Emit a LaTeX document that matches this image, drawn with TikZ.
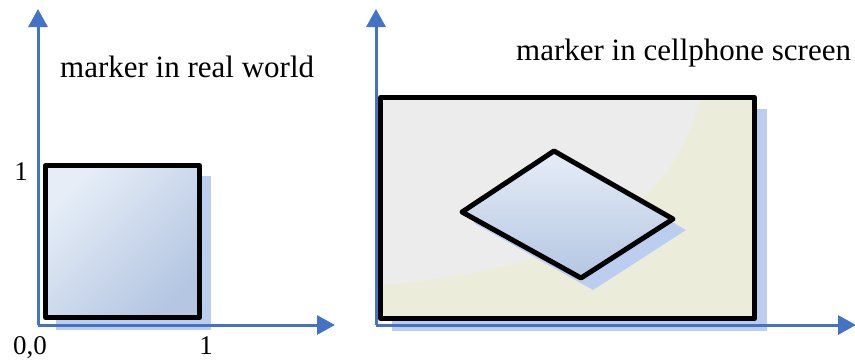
\documentclass[tikz,border=0pt]{standalone}
\usepackage{fontspec}
\setmainfont{Liberation Serif}
\usetikzlibrary{arrows.meta}
\definecolor{axisblue}{RGB}{68,114,196}
\definecolor{shadowblue}{RGB}{188,206,240}
\definecolor{screengray}{RGB}{236,236,236}
\definecolor{screenbeige}{RGB}{236,236,219}
\definecolor{markerlight}{RGB}{230,237,247}
\definecolor{markerdark}{RGB}{180,198,226}
\tikzset{
  axis/.style={draw=axisblue, line width=3pt, -{Triangle[length=18pt,width=19pt]}},
  outline/.style={draw=black, line width=5pt, line join=round},
  title/.style={font=\fontsize{31}{36}\selectfont, anchor=base west, inner sep=0pt},
  digit/.style={font=\fontsize{27}{30}\selectfont, anchor=base, inner sep=0pt}
}
\begin{document}
\begin{tikzpicture}[x=1pt,y=-1pt]
\useasboundingbox (0,0) rectangle (855,362);
% ---------- left part ----------
\fill[shadowblue] (55.5,175.5) rectangle (210.5,329.5);
\coordinate (lo) at (38,325);
\coordinate (ly) at (38,9);
\coordinate (lx) at (335,325);
\draw[axis] (lo) -- (ly);
\draw[axis] (lo) -- (lx);
\shade[shading=axis, top color=markerlight, bottom color=markerdark, shading angle=45]
  (45.5,165.5) rectangle (199.5,317.5);
\draw[outline] (45.5,165.5) rectangle (199.5,317.5);
\node[title] (t1) at (60,77) {marker in real world};
\node[digit] (l1) at (21,180) {1};
\node[digit] (l00) at (30,354) {0,0};
\node[digit] (lx1) at (206,354) {1};
% ---------- right part ----------
\fill[shadowblue] (391.5,108.5) rectangle (766.5,330.5);
\coordinate (ro) at (376,325);
\coordinate (ry) at (376,9);
\coordinate (rx) at (856,325);
\draw[axis] (ro) -- (ry);
\draw[axis] (ro) -- (rx);
\fill[screengray] (380.5,97.5) rectangle (754.5,318.5);
\begin{scope}
  \clip (380.5,97.5) rectangle (754.5,318.5);
  \fill[screenbeige] (380.5,285) .. controls (600,268) and (680,190) .. (700,97.5)
    -- (754.5,97.5) -- (754.5,318.5) -- (380.5,318.5) -- cycle;
\end{scope}
\draw[outline] (380.5,97.5) rectangle (754.5,318.5);
% diamond
\fill[shadowblue] (566,162) -- (686,230) -- (593,290) -- (474,223) -- cycle;
\shade[shading=axis, top color=markerlight, bottom color=markerdark]
  (554,151) -- (673,219) -- (581,278) -- (462,212) -- cycle;
\draw[outline] (554,151) -- (673,219) -- (581,278) -- (462,212) -- cycle;
\node[title] (t2) at (516,60) {marker in cellphone screen};
\end{tikzpicture}
\end{document}
